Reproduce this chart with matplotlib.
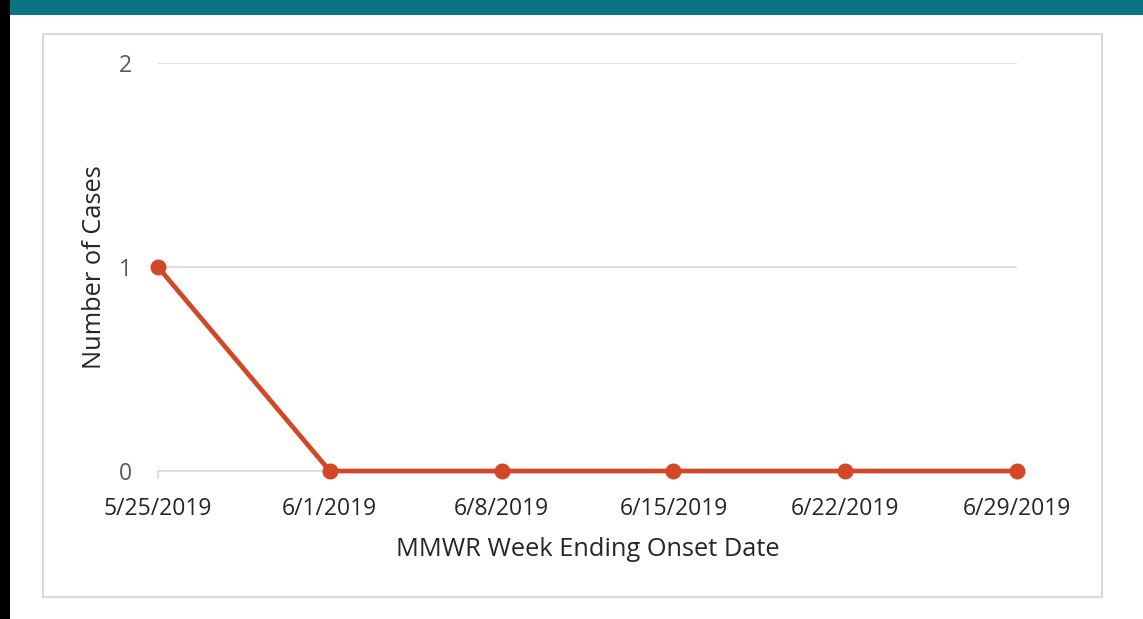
import matplotlib.pyplot as plt
from matplotlib.patches import Rectangle

weeks = ["5/25/2019", "6/1/2019", "6/8/2019", "6/15/2019", "6/22/2019", "6/29/2019"]
cases = [1, 0, 0, 0, 0, 0]
y_ticks = [0, 1, 2]

W, H = 1143, 619
fig = plt.figure(figsize=(W / 100, H / 100), dpi=100)
plt.rcParams['font.family'] = ['Open Sans', 'DejaVu Sans']

# page decorations: black bar on the left, teal band on top, light frame
fig.patches.append(Rectangle((0, 0), 10 / W, 1, transform=fig.transFigure,
                             facecolor='black', edgecolor='none', zorder=0))
fig.patches.append(Rectangle((10 / W, 1 - 15 / H), 1, 15 / H, transform=fig.transFigure,
                             facecolor='#0A7480', edgecolor='none', zorder=0))
fig.patches.append(Rectangle((43 / W, 1 - 597 / H), (1102 - 43) / W, (597 - 34) / H,
                             transform=fig.transFigure, facecolor='none',
                             edgecolor='#d9d9d9', linewidth=1.5, zorder=0))

ax = fig.add_axes([158 / W, 1 - 471 / H, (1017 - 158) / W, (471 - 63) / H])
x = list(range(len(weeks)))
ax.plot(x, cases, color='#D24726', linewidth=3.4, marker='o', markersize=10.5,
        clip_on=False, zorder=3)

ax.set_xlim(0, len(weeks) - 1)
ax.set_ylim(0, 2)
ax.set_yticks(y_ticks)
ax.set_yticklabels([str(v) for v in y_ticks])
ax.set_xticks(x)
ax.set_xticklabels(weeks)
ax.grid(axis='y', color='#d9d9d9', linewidth=1.2)
ax.set_axisbelow(True)
for s in ['top', 'right', 'left']:
    ax.spines[s].set_visible(False)
ax.spines['bottom'].set_color('#d9d9d9')
ax.spines['bottom'].set_linewidth(1.2)

ax.tick_params(axis='y', length=0, pad=19, labelsize=16.5, labelcolor='#595959')
ax.tick_params(axis='x', length=0, pad=19, labelsize=16.5, labelcolor='#262626')
# small tick at the left end of the x axis
ax.plot([0, 0], [0, -0.035], color='#d9d9d9', linewidth=1.2, clip_on=False)

ax.set_ylabel("Number of Cases", fontsize=18.3, color='#262626', labelpad=8)
ax.set_xlabel("MMWR Week Ending Onset Date", fontsize=18.3, color='#262626', labelpad=11)

fig.savefig("out.png", dpi=100)
